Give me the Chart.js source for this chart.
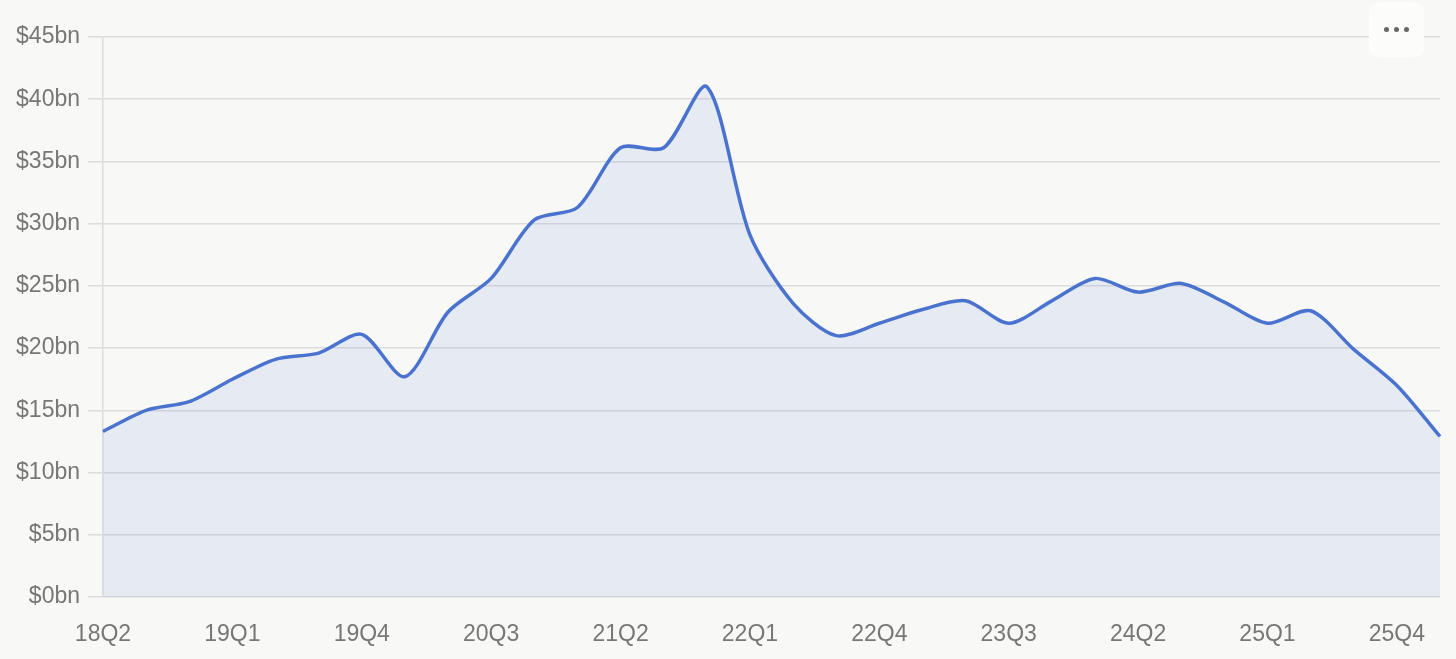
<!DOCTYPE html>
<html lang="en">
<head>
    <meta charset="UTF-8">
    <meta name="viewport" content="width=device-width, initial-scale=1.0">
    <title>Quarterly value</title>
    <style>
        html, body { margin: 0; padding: 0; background-color: #f8f8f6; }
        .chart-container { position: relative; width: 1456px; height: 659px; }
        .menu-btn { position: absolute; left: 1369px; top: 2px; width: 55px; height: 55px;
                    background-color: #fcfcfb; border-radius: 10px; }
        .menu-btn span { position: absolute; top: 25px; width: 5px; height: 5px;
                         border-radius: 50%; background-color: #666; }
    </style>
    <script src="https://cdn.jsdelivr.net/npm/chart.js"></script>
</head>
<body>
    <div class="chart-container">
        <canvas id="mainChart"></canvas>
        <div class="menu-btn"><span style="left:15px"></span><span style="left:25px"></span><span style="left:35px"></span></div>
    </div>

    <script>
        // 季度标签 18Q2 .. 26Q1
        const quarters = [
            '18Q2', '18Q3', '18Q4',
            '19Q1', '19Q2', '19Q3', '19Q4',
            '20Q1', '20Q2', '20Q3', '20Q4',
            '21Q1', '21Q2', '21Q3', '21Q4',
            '22Q1', '22Q2', '22Q3', '22Q4',
            '23Q1', '23Q2', '23Q3', '23Q4',
            '24Q1', '24Q2', '24Q3', '24Q4',
            '25Q1', '25Q2', '25Q3', '25Q4',
            '26Q1'
        ];

        // 数值（十亿美元）
        const values = [
            13.3, 15.0, 15.7,
            17.5, 19.1, 19.6, 21.1,
            17.7, 22.9, 25.6, 30.3,
            31.3, 36.1, 36.1, 41.0,
            29.1, 23.6, 21.0, 22.0,
            23.1, 23.8, 22.0, 23.8,
            25.6, 24.5, 25.2, 23.7,
            22.0, 23.0, 19.9, 17.0,
            12.9
        ];

        const yTicks = [0, 5, 10, 15, 20, 25, 30, 35, 40, 45];

        const labelFont = { family: 'Arial, "Liberation Sans", sans-serif', size: 23 };
        const labelColor = '#777777';
        const gridColor = '#dcdcdc';

        const ctx = document.getElementById('mainChart').getContext('2d');
        new Chart(ctx, {
            type: 'line',
            data: {
                labels: quarters,
                datasets: [{
                    data: values,
                    borderColor: '#4a73cf',
                    borderWidth: 3.5,
                    backgroundColor: 'rgba(74, 115, 207, 0.1)',
                    fill: 'origin',
                    tension: 0.28,
                    pointRadius: 0
                }]
            },
            options: {
                responsive: true,
                maintainAspectRatio: false,
                animation: false,
                layout: { padding: { top: 37, right: 16, left: 0, bottom: 0 } },
                scales: {
                    x: {
                        grid: { display: false, drawTicks: false },
                        border: { display: false },
                        ticks: {
                            autoSkip: false,
                            maxRotation: 0,
                            padding: 24,
                            color: labelColor,
                            font: labelFont,
                            // 每三个季度显示一个标签
                            callback: function(value, index) {
                                return index % 3 === 0 && index < quarters.length - 1 ? quarters[index] : '';
                            }
                        },
                        afterFit: function(scale) {
                            scale.height = 62;
                            scale.paddingLeft = 0;
                            scale.paddingRight = 0;
                        }
                    },
                    y: {
                        min: 0,
                        max: 45,
                        afterBuildTicks: function(scale) {
                            scale.ticks = yTicks.map(v => ({ value: v }));
                        },
                        grid: { color: gridColor, lineWidth: 1.5, tickLength: 15 },
                        border: { display: true, color: gridColor, width: 1.5 },
                        ticks: {
                            padding: 8,
                            color: labelColor,
                            font: labelFont,
                            callback: function(value) { return '$' + value + 'bn'; }
                        },
                        afterFit: function(scale) { scale.width = 103; }
                    }
                },
                plugins: {
                    legend: { display: false },
                    tooltip: { enabled: false }
                }
            }
        });
    </script>
</body>
</html>
